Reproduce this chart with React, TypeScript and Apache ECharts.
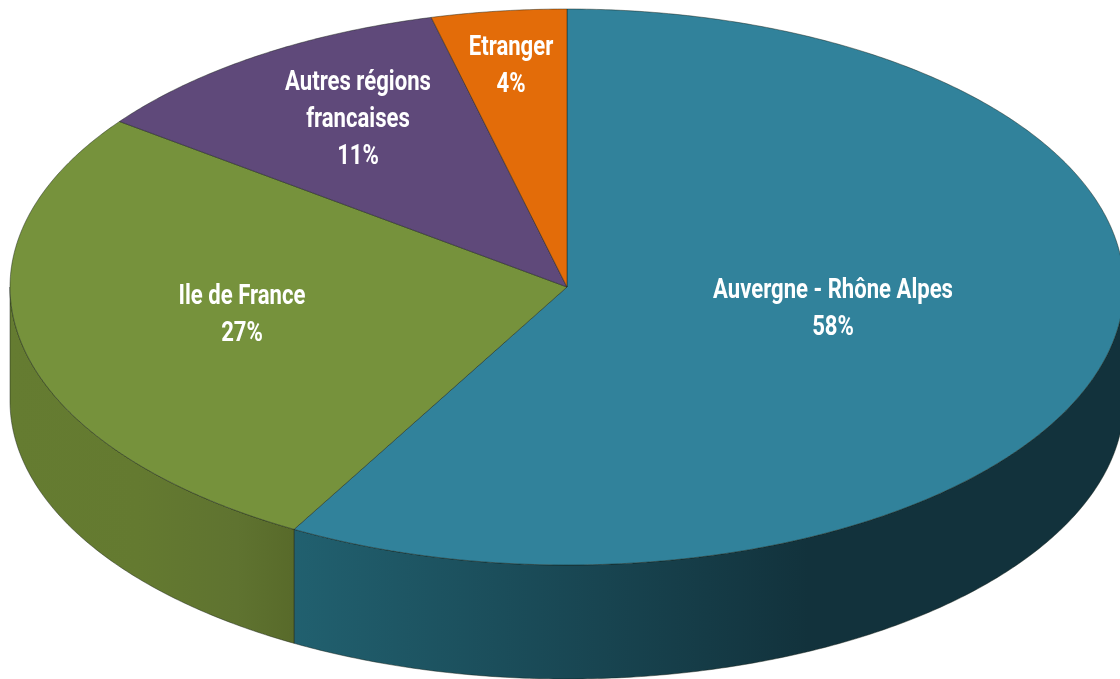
import React, { useEffect, useRef } from "react";
import * as echarts from "echarts";

const categories = ["Auvergne - Rhône Alpes", "Ile de France", "Autres régions\nfrancaises", "Etranger"];
const values = [58.15, 27.0, 10.93, 3.92];
const percentLabels = ["58%", "27%", "11%", "4%"];

const topColors = ["#31829b", "#76923c", "#5f497a", "#e36c09"];
const wallStops: [number, string][][] = [
  [[0, "#21606f"], [0.62, "#12323c"], [1, "#12323c"]],
  [[0, "#657c31"], [0.45, "#647a30"], [0.8, "#5f7330"], [1, "#586a2a"]],
  [[0, "#4c3a62"], [1, "#4c3a62"]],
  [[0, "#b55707"], [1, "#b55707"]],
];
const labelCenters = [[833, 307], [242, 313], [358, 118], [511, 64]];

const CX = 567;
const CY = 287;
const RX = 557;
const RY = 278;
const DEPTH = 114;
const total = values.reduce((a, b) => a + b, 0);

const pt = (deg: number, dy = 0): number[] => {
  const r = (deg * Math.PI) / 180;
  return [CX + RX * Math.sin(r), CY - RY * Math.cos(r) + dy];
};

const arc = (from: number, to: number, dy = 0): number[][] => {
  const out: number[][] = [];
  const n = Math.max(2, Math.ceil(Math.abs(to - from) * 2));
  for (let i = 0; i <= n; i++) out.push(pt(from + ((to - from) * i) / n, dy));
  return out;
};

const edge = "rgba(20,30,20,0.75)";

const renderItem = (params: any, api: any) => {
  const i = params.dataIndex;
  const before = values.slice(0, i).reduce((a, b) => a + b, 0);
  const start = (before / total) * 360;
  const end = start + (api.value(0) / total) * 360;
  const children: any[] = [];

  const wFrom = Math.max(start, 90);
  const wTo = Math.min(end, 270);
  if (wTo > wFrom) {
    const pts = [...arc(wFrom, wTo), ...arc(wTo, wFrom, DEPTH)];
    children.push({
      type: "polygon",
      shape: { points: pts },
      style: {
        fill: new echarts.graphic.LinearGradient(0, 0, 1, 0, wallStops[i].map(([offset, color]) => ({ offset, color }))),
        stroke: edge,
        lineWidth: 0.6,
      },
    });
  }
  children.push({
    type: "polygon",
    shape: { points: [[CX, CY], ...arc(start, end)] },
    style: { fill: topColors[i], stroke: edge, lineWidth: 0.6 },
  });
  children.push({
    type: "text",
    z2: 10,
    x: labelCenters[i][0],
    y: labelCenters[i][1],
    scaleX: 0.79,
    style: {
      x: 0,
      y: 0,
      text: categories[i] + "\n" + percentLabels[i],
      fill: "#ffffff",
      align: "center",
      verticalAlign: "middle",
      fontFamily: "Roboto",
      fontWeight: "bold",
      fontSize: 28,
      lineHeight: 37,
    },
  });
  return { type: "group", children };
};

export default function App() {
  const ref = useRef<HTMLDivElement>(null);
  useEffect(() => {
    const chart = echarts.init(ref.current!, undefined, { renderer: "svg" });
    chart.setOption({
      animation: false,
      backgroundColor: "#ffffff",
      series: [
        {
          type: "custom",
          coordinateSystem: "none",
          clip: false,
          renderItem,
          data: values.map((v) => [v]),
        },
      ],
    });
    return () => chart.dispose();
  }, []);
  return (
    <div
      ref={ref}
      style={{ position: "fixed", left: 0, top: 0, width: 1120, height: 679, filter: "blur(0.5px)" }}
    />
  );
}
